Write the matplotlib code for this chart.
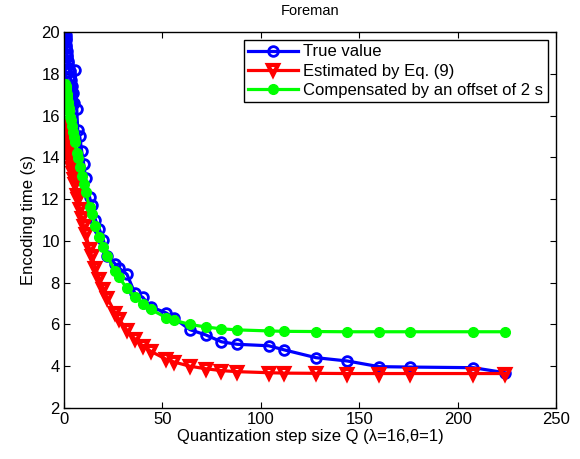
import matplotlib
matplotlib.use("Agg")
import matplotlib.pyplot as plt

plt.rcParams['font.family'] = ['Liberation Sans', 'DejaVu Sans']

# quantization step sizes (H.264 Qstep table)
q_steps = [0.625, 0.6875, 0.8125, 0.875, 1, 1.125, 1.25, 1.375, 1.625, 1.75,
           2, 2.25, 2.5, 2.75, 3.25, 3.5, 4, 4.5, 5, 5.5,
           6.5, 7, 8, 9, 10, 11, 13, 14, 16, 18,
           20, 22, 26, 28, 32, 36, 40, 44, 52, 56,
           64, 72, 80, 88, 104, 112, 128, 144, 160, 176,
           208, 224]

# measured encoding time
true_time = [20.0, 19.9, 19.85, 19.7, 19.6, 19.4, 19.3, 19.1, 18.9, 18.8,
             18.6, 18.5, 18.3, 18.1, 17.9, 17.7, 17.4, 17.1, 16.6, 18.2,
             16.3, 15.3, 15.0, 14.3, 13.7, 13.0, 12.1, 11.7, 11.0, 10.55,
             10.05, 9.3, 8.9, 8.7, 8.4, 7.5, 7.3, 6.85, 6.55, 6.3,
             5.75, 5.5, 5.17, 5.05, 4.98, 4.78, 4.41, 4.25, 3.98, 3.96,
             3.93, 3.69]

# model estimate
est_time = [15.53, 15.49, 15.41, 15.37, 15.29, 15.20, 15.12, 15.05, 14.89, 14.81,
            14.66, 14.50, 14.35, 14.21, 13.92, 13.78, 13.50, 13.23, 12.97, 12.71,
            12.22, 11.99, 11.54, 11.11, 10.71, 10.33, 9.62, 9.30, 8.71, 8.17,
            7.70, 7.27, 6.55, 6.25, 5.73, 5.31, 4.98, 4.72, 4.33, 4.20,
            4.00, 3.88, 3.79, 3.74, 3.69, 3.67, 3.66, 3.65, 3.65, 3.65,
            3.65, 3.65]

# estimate shifted by the 2 s offset
comp_time = [17.53, 17.49, 17.41, 17.37, 17.29, 17.20, 17.12, 17.05, 16.89, 16.81,
             16.66, 16.50, 16.35, 16.21, 15.92, 15.78, 15.50, 15.23, 14.97, 14.71,
             14.22, 13.99, 13.54, 13.11, 12.71, 12.33, 11.62, 11.30, 10.71, 10.17,
             9.70, 9.27, 8.55, 8.25, 7.73, 7.31, 6.98, 6.72, 6.33, 6.20,
             6.00, 5.88, 5.79, 5.74, 5.69, 5.67, 5.66, 5.65, 5.65, 5.65,
             5.65, 5.65]

fig = plt.figure(figsize=(5.8, 4.59), dpi=100)
ax = fig.add_axes([0.1103, 0.1111, 0.8483, 0.8192])

ax.plot(q_steps, true_time, color='#0000ff', lw=2.3, marker='o', ms=7,
        mfc='none', mec='#0000ff', mew=2.0, label='True value')
ax.plot(q_steps, est_time, color='#ff0000', lw=2.3, marker='v', ms=7.5,
        mfc='none', mec='#ff0000', mew=3.0, label='Estimated by Eq. (9)')
ax.plot(q_steps, comp_time, color='#00ff00', lw=2.3, marker='o', ms=7,
        mfc='#00ff00', mec='#00ff00', label='Compensated by an offset of 2 s')

ax.set_xlim(0, 250)
ax.set_ylim(2, 20)
ax.set_xticks(range(0, 251, 50))
ax.set_yticks(range(2, 21, 2))
ax.tick_params(direction='in', top=True, right=True, labelsize=12, length=4, pad=3)
for s in ax.spines.values():
    s.set_linewidth(1.0)

ax.set_title('Foreman', fontsize=10.5, pad=12)
ax.set_xlabel('Quantization step size Q (λ=16,θ=1)', fontsize=12, labelpad=1)
ax.set_ylabel('Encoding time (s)', fontsize=12, labelpad=4)

leg = ax.legend(loc='upper right', fontsize=12, fancybox=False,
                edgecolor='black', framealpha=1, handlelength=3.0,
                borderaxespad=0.5, labelspacing=0.25, handletextpad=0.3,
                borderpad=0.25)
leg.get_frame().set_linewidth(1.0)

fig.savefig('out.png', dpi=100)
